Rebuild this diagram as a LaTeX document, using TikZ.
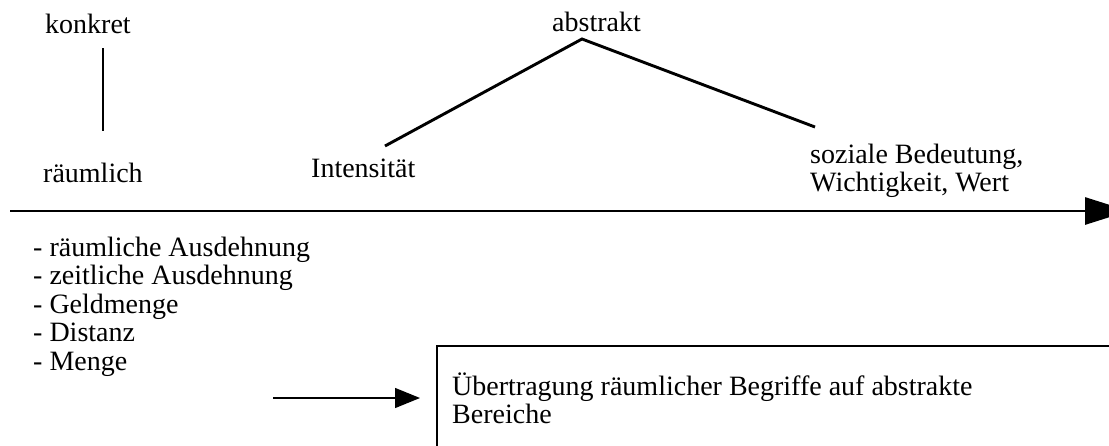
\documentclass[tikz,border=0pt]{standalone}
\usepackage{fontspec}
\setmainfont{Liberation Serif}
\usetikzlibrary{arrows.meta}
\begin{document}
\begin{tikzpicture}[x=1pt,y=-1pt,
  lbl/.style={inner sep=0pt, anchor=base west, font=\fontsize{28}{28.5}\selectfont},
  boldline/.style={line width=2.9pt, line cap=butt},
  mainarrow/.style={line width=2.9pt, -{Triangle[length=44pt,width=27pt]}},
  smallarrow/.style={line width=1.3pt, -{Triangle[length=25pt,width=20pt]}},
  framebox/.style={line width=2.5pt},
]
\useasboundingbox (0,0) rectangle (1109,445);
% labels
\node[lbl] (konkret) at (45,33) {konkret};
\node[lbl] (raeumlich) at (43,182) {räumlich};
\node[lbl] (abstrakt) at (552,31) {abstrakt};
\node[lbl] (intens) at (311,177) {Intensität};
\node[lbl] (sozial) at (810,163) {\begin{tabular}[t]{@{}l@{}}soziale Bedeutung,\\Wichtigkeit, Wert\end{tabular}};
\node[lbl] (liste) at (33,256) {\begin{tabular}[t]{@{}l@{}}- räumliche Ausdehnung\\- zeitliche Ausdehnung\\- Geldmenge\\- Distanz\\- Menge\end{tabular}};
% connectors of the upper part
\coordinate (k1) at (103,48);
\coordinate (k2) at (103,131);
\draw[boldline] (k1) -- (k2);
\coordinate (apex) at (582,39);
\coordinate (lend) at (385,146);
\coordinate (rend) at (815,127);
\draw[boldline, line join=miter] (lend) -- (apex) -- (rend);
% main axis
\coordinate (axisstart) at (10,211);
\coordinate (axisend) at (1129,211);
\draw[mainarrow] (axisstart) -- (axisend);
% box
\coordinate (boxtl) at (437,346);
\coordinate (boxbr) at (1120,460);
\draw[framebox] (boxtl) rectangle (boxbr);
\node[lbl] (boxtext) at (452,395) {\begin{tabular}[t]{@{}l@{}}Übertragung räumlicher Begriffe auf abstrakte\\Bereiche\end{tabular}};
% small arrow
\coordinate (sa0) at (273,398);
\coordinate (sa1) at (420,398);
\draw[smallarrow] (sa0) -- (sa1);
\end{tikzpicture}
\end{document}
